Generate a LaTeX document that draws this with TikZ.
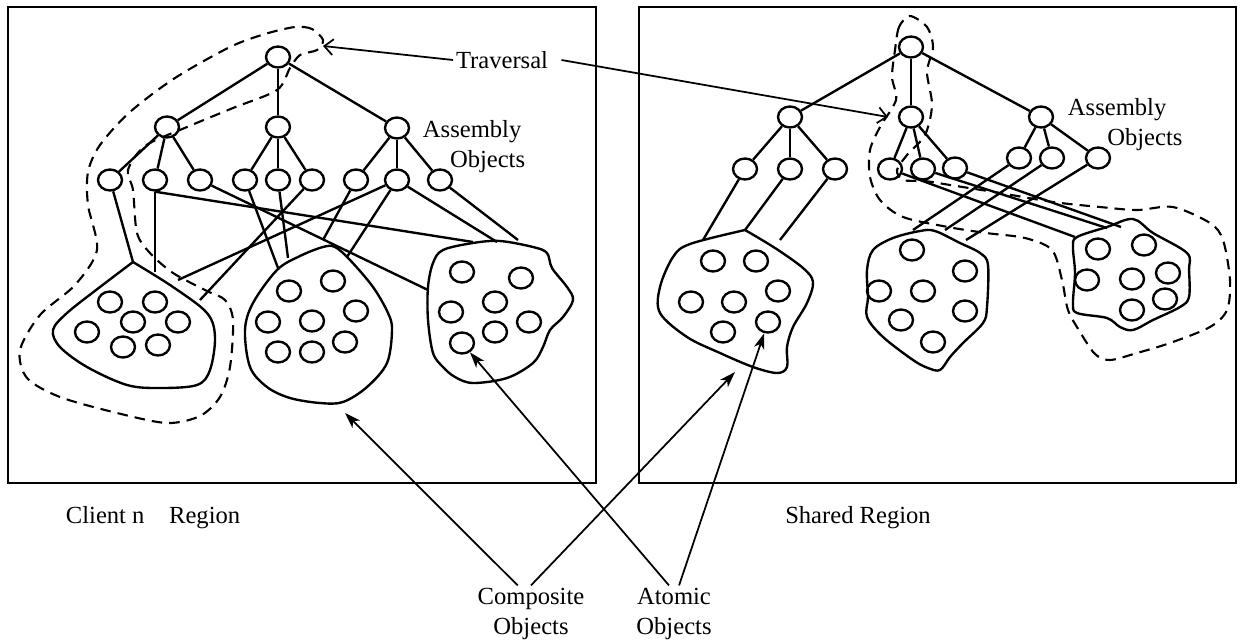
\documentclass[tikz,border=0pt]{standalone}
\usepackage{fontspec}
\setmainfont{Liberation Serif}
\usetikzlibrary{arrows.meta,shapes.geometric}

\begin{document}
\begin{tikzpicture}[x=0.02cm, y=-0.02cm, line width=1.35pt,
	obj/.style={draw, ellipse, minimum width=0.48cm, minimum height=0.42cm, inner sep=0pt},
	lbl/.style={font=\fontsize{14}{17}\selectfont, inner sep=1pt},
	travel/.style={-{Straight Barb[length=5pt,width=9pt]}, line width=1pt},
	pointer/.style={-{Stealth[length=9pt,width=6pt,inset=2.5pt]}, line width=1pt},
	loop/.style={dash pattern=on 6pt off 4pt, line width=1.2pt}]

	\useasboundingbox (0,0) rectangle (1240,643);

	% regions
	\draw (8,7) rectangle (596,483);
	\draw (639,7) rectangle (1236,483);
	\node[lbl, anchor=west] (cname) at (63,518) {Client n\quad Region};
	\node[lbl] (sname) at (858,518) {Shared Region};

	% client assembly tree
	\node[obj] (cr) at (278,57) {};
	\node[obj] (ca) at (167,127) {};
	\node[obj] (cb) at (278,127) {};
	\node[obj] (cc) at (397,128) {};
	\foreach \n/\x in {ca1/110, ca2/155, ca3/200, cb1/245, cb2/278, cb3/312, cc1/356, cc2/397, cc3/440}
		\node[obj] (\n) at (\x,180) {};
	\foreach \p in {ca,cb,cc} {
		\draw (cr) -- (\p);
		\foreach \k in {1,2,3} \draw (\p) -- (\p\k);
	}
	\node[lbl, anchor=west, align=left] (cass) at (420,147) {Assembly\\\hspace{1.1em}Objects};

	% shared assembly tree
	\node[obj] (sr) at (911,47) {};
	\node[obj] (sa) at (790,117) {};
	\node[obj] (sb) at (911,117) {};
	\node[obj] (sc) at (1041,117) {};
	\foreach \n/\x/\y in {sa1/745/169, sa2/790/169, sa3/835/169, sb1/890/169, sb2/923/169, sb3/955/168, sc1/1019/158, sc2/1052/158, sc3/1098/158}
		\node[obj] (\n) at (\x,\y) {};
	\foreach \p in {sa,sb,sc} {
		\draw (sr) -- (\p);
		\foreach \k in {1,2,3} \draw (\p) -- (\p\k);
	}
	\node[lbl, anchor=west, align=left] (sass) at (1065,125) {Assembly\\\hspace{1.6em}Objects};

	% composite objects (client)
	\draw plot[smooth, tension=0.55] coordinates {(133,262) (173,287) (207,313) (215,337) (210,370) (197,385) (160,388) (127,385) (87,367) (60,347) (53,330) (67,313) (100,287) (133,262)};
	\draw plot[smooth cycle, tension=0.55] coordinates {(277,270) (300,256) (323,247) (335,247) (350,260) (373,287) (388,313) (392,330) (387,363) (367,387) (343,402) (320,403) (290,398) (267,387) (250,367) (245,330) (253,303)};
	\draw plot[smooth cycle, tension=0.55] coordinates {(443,250) (473,243) (500,241) (533,247) (547,253) (552,268) (567,287) (573,300) (563,317) (550,330) (543,347) (533,363) (507,378) (473,383) (455,377) (443,367) (433,353) (428,320) (428,287) (433,263)};

	% composite objects (shared)
	\draw plot[smooth, tension=0.55] coordinates {(745,230) (775,248) (803,268) (813,282) (807,303) (793,327) (787,347) (787,367) (777,373) (753,367) (720,353) (687,337) (660,313) (660,287) (673,257) (690,244) (745,230)};
	\draw plot[smooth cycle, tension=0.55] coordinates {(873,250) (893,238) (920,231) (935,231) (960,243) (980,253) (988,265) (987,307) (983,323) (963,343) (950,357) (940,370) (928,368) (913,360) (883,337) (867,317) (868,297) (867,270)};
	\draw plot[smooth cycle, tension=0.55] coordinates {(1077,237) (1107,227) (1133,219) (1153,233) (1187,253) (1189,270) (1189,297) (1180,307) (1153,320) (1133,330) (1120,327) (1107,318) (1077,313) (1073,303) (1075,273) (1073,247)};

	% atomic objects
	\foreach \x/\y [count=\i] in {110/302, 155/302, 133/322, 178/322, 87/332, 123/347, 158/345}
		\node[obj] (ka\i) at (\x,\y) {};
	\foreach \x/\y [count=\i] in {289/291, 333/281, 268/322, 312/321, 356/311, 278/352, 312/352, 345/342}
		\node[obj] (kb\i) at (\x,\y) {};
	\foreach \x/\y [count=\i] in {462/272, 521/278, 451/312, 495/302, 529/322, 495/332, 462/343}
		\node[obj] (kc\i) at (\x,\y) {};
	\foreach \x/\y [count=\i] in {713/261, 756/261, 778/291, 691/302, 734/302, 768/322, 723/332}
		\node[obj] (kd\i) at (\x,\y) {};
	\foreach \x/\y [count=\i] in {912/250, 879/291, 923/291, 965/271, 965/311, 901/320, 933/342}
		\node[obj] (ke\i) at (\x,\y) {};
	\foreach \x/\y [count=\i] in {1098/249, 1144/245, 1087/280, 1132/279, 1168/273, 1165/299, 1132/310}
		\node[obj] (kf\i) at (\x,\y) {};

	% references client
	\coordinate (p1) at (133,262);
	\coordinate (p2) at (155,272);
	\coordinate (p3) at (473,242);
	\coordinate (p4) at (428,290);
	\coordinate (p5) at (278,268);
	\coordinate (p6) at (288,258);
	\coordinate (p7) at (200,300);
	\coordinate (p8) at (323,240);
	\coordinate (p9) at (178,280);
	\coordinate (p10) at (347,257);
	\coordinate (p11) at (497,242);
	\coordinate (p12) at (518,240);
	\draw (ca1) -- (p1);
	\draw (ca2.south) -- (p2);
	\draw (ca2.south) -- (p3);
	\draw (ca3) -- (p4);
	\draw (cb1) -- (p5);
	\draw (cb2) -- (p6);
	\draw (cb3) -- (p7);
	\draw (cc1) -- (p8);
	\draw (cc2) -- (p9);
	\draw (cc2) -- (p10);
	\draw (cc2) -- (p11);
	\draw (cc3) -- (p12);

	% references shared
	\coordinate (q1) at (703,240);
	\coordinate (q2) at (745,230);
	\coordinate (q3) at (780,240);
	\coordinate (q4) at (1075,237);
	\coordinate (q5) at (1107,228);
	\coordinate (q6) at (1121,227);
	\coordinate (q7) at (913,230);
	\coordinate (q8) at (945,230);
	\coordinate (q9) at (966,240);
	\draw (sa1) -- (q1);
	\draw (sa2) -- (q2);
	\draw (sa3) -- (q3);
	\draw (sb1) -- (q4);
	\draw (sb2) -- (q5);
	\draw (sb3) -- (q6);
	\draw (sc1) -- (q7);
	\draw (sc2) -- (q8);
	\draw (sc3) -- (q9);

	% traversal paths
	\draw[loop] plot[smooth cycle, tension=0.5] coordinates {(323,40) (312,29) (295,27) (265,34) (230,47) (175,78) (130,112) (100,145) (88,172) (88,205) (97,250) (75,285) (40,315) (20,350) (27,378) (60,397) (117,413) (167,423) (200,416) (220,397) (230,367) (233,320) (225,300) (207,291) (173,273) (150,253) (137,233) (133,190) (128,170) (145,146) (187,127) (233,108) (277,90) (290,68) (300,55) (317,50)};
	\draw[loop] plot[smooth cycle, tension=0.5] coordinates {(910,16) (899,27) (895,50) (892,77) (896,100) (880,127) (870,150) (870,177) (880,200) (903,217) (948,227) (986,233) (1025,238) (1052,250) (1062,280) (1068,310) (1080,332) (1095,354) (1110,360) (1137,353) (1170,343) (1210,327) (1227,310) (1230,280) (1223,240) (1210,223) (1173,207) (1137,210) (1100,207) (1053,202) (1000,193) (950,185) (925,181) (903,180) (897,170) (907,155) (925,135) (932,105) (927,72) (933,47) (927,27)};

	\node[lbl] (trav) at (502,60) {Traversal};
	\coordinate (tl) at (323,46);
	\coordinate (tr) at (888,117);
	\draw[travel] (trav.west) -- (tl);
	\draw[travel] ([xshift=6pt]trav.east) -- (tr);

	% legend
	\node[lbl, align=center] (comp) at (531,614) {Composite\\Objects};
	\node[lbl, align=center] (atom) at (674,614) {Atomic\\Objects};
	\coordinate (cp1) at (345,413);
	\coordinate (cp2) at (735,372);
	\draw[pointer] (comp.115) -- (cp1);
	\draw[pointer] (comp.north) -- (cp2);
	\draw[pointer] (atom.100) -- (kc7);
	\draw[pointer] (atom.80) -- (kd6);
\end{tikzpicture}
\end{document}
